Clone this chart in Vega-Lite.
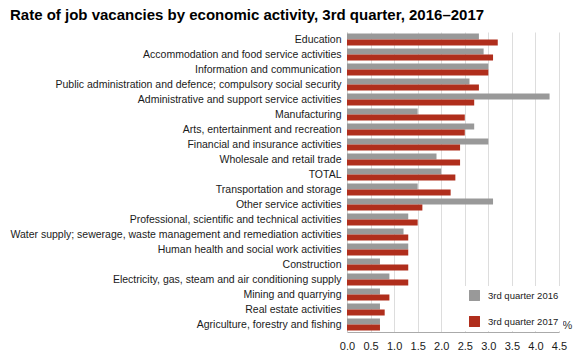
{
  "$schema": "https://vega.github.io/schema/vega-lite/v6.json",
  "autosize": {"type": "none"},
  "width": 212,
  "height": 300,
  "padding": {"left": 347, "top": 32, "right": 22, "bottom": 30},
  "background": "white",
  "title": {
    "text": "Rate of job vacancies by economic activity, 3rd quarter, 2016–2017",
    "anchor": "start",
    "frame": "group",
    "dx": -337,
    "offset": 9,
    "font": "Liberation Sans",
    "fontSize": 15,
    "fontWeight": "bold",
    "color": "#000000"
  },
  "data": {
    "values": [
      {"activity": "Education", "series": "3rd quarter 2016", "value": 2.8},
      {"activity": "Education", "series": "3rd quarter 2017", "value": 3.2},
      {"activity": "Accommodation and food service activities", "series": "3rd quarter 2016", "value": 2.9},
      {"activity": "Accommodation and food service activities", "series": "3rd quarter 2017", "value": 3.1},
      {"activity": "Information and communication", "series": "3rd quarter 2016", "value": 3.0},
      {"activity": "Information and communication", "series": "3rd quarter 2017", "value": 3.0},
      {"activity": "Public administration and defence; compulsory social security", "series": "3rd quarter 2016", "value": 2.6},
      {"activity": "Public administration and defence; compulsory social security", "series": "3rd quarter 2017", "value": 2.8},
      {"activity": "Administrative and support service activities", "series": "3rd quarter 2016", "value": 4.3},
      {"activity": "Administrative and support service activities", "series": "3rd quarter 2017", "value": 2.7},
      {"activity": "Manufacturing", "series": "3rd quarter 2016", "value": 1.5},
      {"activity": "Manufacturing", "series": "3rd quarter 2017", "value": 2.5},
      {"activity": "Arts, entertainment and recreation", "series": "3rd quarter 2016", "value": 2.7},
      {"activity": "Arts, entertainment and recreation", "series": "3rd quarter 2017", "value": 2.5},
      {"activity": "Financial and insurance activities", "series": "3rd quarter 2016", "value": 3.0},
      {"activity": "Financial and insurance activities", "series": "3rd quarter 2017", "value": 2.4},
      {"activity": "Wholesale and retail trade", "series": "3rd quarter 2016", "value": 1.9},
      {"activity": "Wholesale and retail trade", "series": "3rd quarter 2017", "value": 2.4},
      {"activity": "TOTAL", "series": "3rd quarter 2016", "value": 2.0},
      {"activity": "TOTAL", "series": "3rd quarter 2017", "value": 2.3},
      {"activity": "Transportation and storage", "series": "3rd quarter 2016", "value": 1.5},
      {"activity": "Transportation and storage", "series": "3rd quarter 2017", "value": 2.2},
      {"activity": "Other service activities", "series": "3rd quarter 2016", "value": 3.1},
      {"activity": "Other service activities", "series": "3rd quarter 2017", "value": 1.6},
      {"activity": "Professional, scientific and technical activities", "series": "3rd quarter 2016", "value": 1.3},
      {"activity": "Professional, scientific and technical activities", "series": "3rd quarter 2017", "value": 1.5},
      {"activity": "Water supply; sewerage, waste management and remediation activities", "series": "3rd quarter 2016", "value": 1.2},
      {"activity": "Water supply; sewerage, waste management and remediation activities", "series": "3rd quarter 2017", "value": 1.3},
      {"activity": "Human health and social work activities", "series": "3rd quarter 2016", "value": 1.3},
      {"activity": "Human health and social work activities", "series": "3rd quarter 2017", "value": 1.3},
      {"activity": "Construction", "series": "3rd quarter 2016", "value": 0.7},
      {"activity": "Construction", "series": "3rd quarter 2017", "value": 1.3},
      {"activity": "Electricity, gas, steam and air conditioning supply", "series": "3rd quarter 2016", "value": 0.9},
      {"activity": "Electricity, gas, steam and air conditioning supply", "series": "3rd quarter 2017", "value": 1.3},
      {"activity": "Mining and quarrying", "series": "3rd quarter 2016", "value": 0.7},
      {"activity": "Mining and quarrying", "series": "3rd quarter 2017", "value": 0.9},
      {"activity": "Real estate activities", "series": "3rd quarter 2016", "value": 0.7},
      {"activity": "Real estate activities", "series": "3rd quarter 2017", "value": 0.8},
      {"activity": "Agriculture, forestry and fishing", "series": "3rd quarter 2016", "value": 0.7},
      {"activity": "Agriculture, forestry and fishing", "series": "3rd quarter 2017", "value": 0.7}
    ]
  },
  "mark": {"type": "bar", "cornerRadius": 0},
  "encoding": {
    "y": {
      "field": "activity",
      "type": "nominal",
      "sort": null,
      "scale": {"paddingInner": 0.2, "paddingOuter": 0.1},
      "axis": {
        "title": null,
        "ticks": false,
        "domain": true,
        "domainColor": "#cccccc",
        "labelFont": "Liberation Sans",
        "labelFontSize": 10.5,
        "labelColor": "#1a1a1a",
        "labelPadding": 6,
        "labelLimit": 400
      }
    },
    "yOffset": {"field": "series", "type": "nominal", "scale": {"paddingInner": 0}},
    "x": {
      "field": "value",
      "type": "quantitative",
      "scale": {"domain": [0, 4.5], "nice": false},
      "axis": {
        "values": [0, 0.5, 1, 1.5, 2, 2.5, 3, 3.5, 4, 4.5],
        "format": ".1f",
        "ticks": false,
        "labelFlush": false,
        "labelOverlap": false,
        "domainColor": "#aaaaaa",
        "gridColor": "#dddddd",
        "labelFont": "Liberation Sans",
        "labelFontSize": 11,
        "labelColor": "#1a1a1a",
        "labelPadding": 8,
        "title": "%",
        "titleFont": "Liberation Sans",
        "titleFontSize": 11,
        "titleFontWeight": "normal",
        "titleColor": "#333333",
        "titleX": 220,
        "titleY": -2,
        "titleAlign": "center",
        "titleBaseline": "bottom"
      }
    },
    "color": {
      "field": "series",
      "type": "nominal",
      "scale": {"range": ["#999999", "#b02e1c"]},
      "legend": {
        "title": null,
        "orient": "none",
        "legendX": 118,
        "legendY": 254,
        "symbolType": "square",
        "symbolSize": 120,
        "symbolStrokeWidth": 0,
        "rowPadding": 15,
        "labelFont": "Liberation Sans",
        "labelFontSize": 9.5,
        "labelColor": "#1a1a1a",
        "labelOffset": 8,
        "fillColor": "white",
        "padding": 4
      }
    }
  },
  "config": {"view": {"stroke": null}}
}
